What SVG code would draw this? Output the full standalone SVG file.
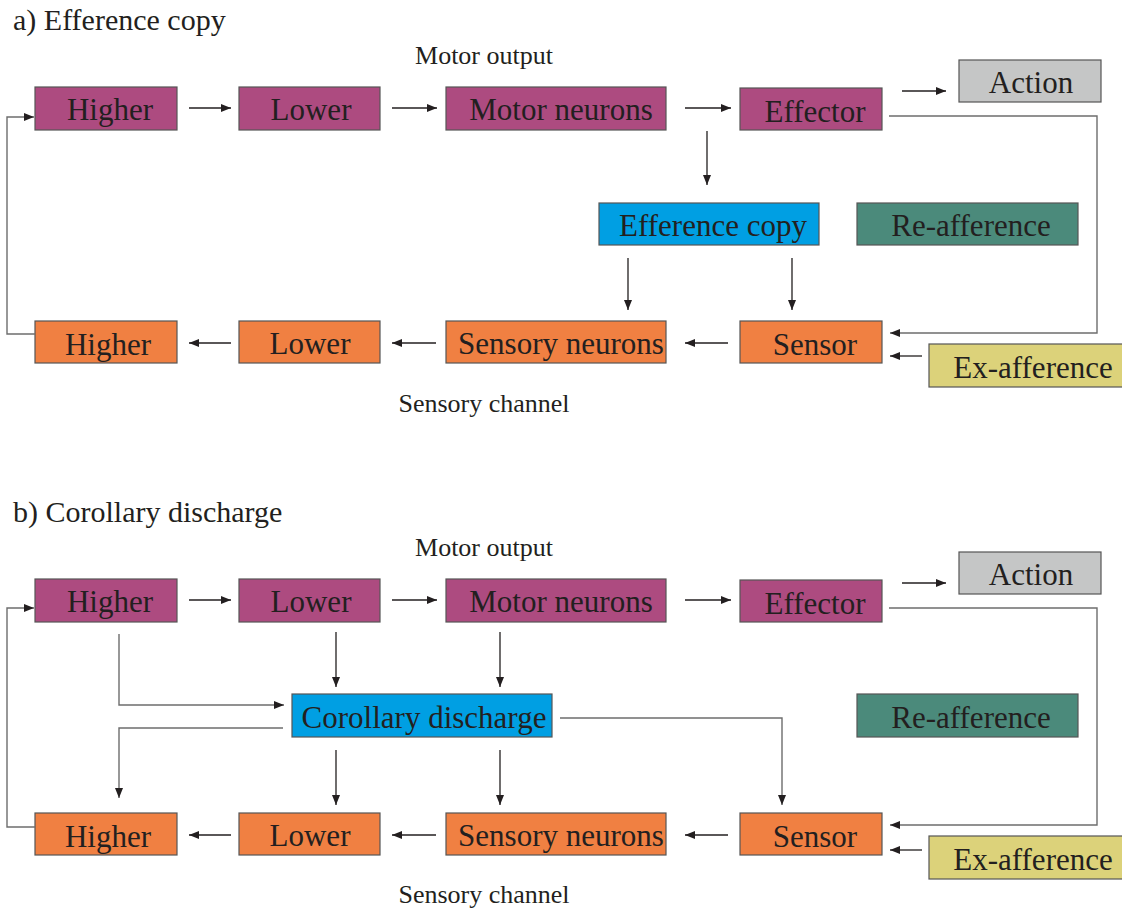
<svg xmlns="http://www.w3.org/2000/svg" width="1122" height="908" viewBox="0 0 1122 908">
<defs>
<marker id="ah" viewBox="0 0 10 8" refX="10" refY="4" markerWidth="10" markerHeight="8" markerUnits="userSpaceOnUse" orient="auto"><path d="M0,0 L10,4 L0,8 z" fill="#231F20"/></marker>
</defs>
<style>
.box{stroke:#555;stroke-width:1.2}
.m{fill:#AD4B80}.s{fill:#F08042}.c{fill:#009FE3}.r{fill:#4B8A7B}.a{fill:#C5C6C6}.x{fill:#DCD27A}
.t{font-family:"Liberation Serif",serif;font-size:31px;fill:#231F20;text-anchor:middle}
.h{font-family:"Liberation Serif",serif;font-size:30px;fill:#231F20}
.l{font-family:"Liberation Serif",serif;font-size:26px;fill:#231F20;text-anchor:middle}
.k{fill:none;stroke:#231F20;stroke-width:1.3}
.g{fill:none;stroke:#6d6d6d;stroke-width:1.4}
</style>
<rect width="1122" height="908" fill="#fff"/>
<text class="h" x="13" y="30">a) Efference copy</text>
<text class="l" x="484" y="64">Motor output</text>
<text class="l" x="484" y="412">Sensory channel</text>
<g id="a-higher-m"><rect class="box m" x="35" y="87" width="142" height="43"/><text class="t" x="110" y="120">Higher</text></g>
<g id="a-lower-m"><rect class="box m" x="239" y="87" width="141" height="43"/><text class="t" x="311" y="120">Lower</text></g>
<g id="a-motor"><rect class="box m" x="446" y="87" width="220" height="43"/><text class="t" x="561" y="120">Motor neurons</text></g>
<g id="a-effector"><rect class="box m" x="740" y="88" width="142" height="42"/><text class="t" x="815" y="122">Effector</text></g>
<g id="a-action"><rect class="box a" x="959" y="60" width="142" height="42"/><text class="t" x="1031" y="93">Action</text></g>
<g id="a-efference"><rect class="box c" x="599" y="203" width="220" height="42"/><text class="t" x="713" y="236">Efference copy</text></g>
<g id="a-reaff"><rect class="box r" x="857" y="203" width="221" height="42"/><text class="t" x="971" y="236">Re-afference</text></g>
<g id="a-higher-s"><rect class="box s" x="35" y="321" width="142" height="42"/><text class="t" x="108" y="355">Higher</text></g>
<g id="a-lower-s"><rect class="box s" x="239" y="321" width="141" height="42"/><text class="t" x="310" y="354">Lower</text></g>
<g id="a-sensory"><rect class="box s" x="446" y="321" width="220" height="42"/><text class="t" x="561" y="354">Sensory neurons</text></g>
<g id="a-sensor"><rect class="box s" x="740" y="321" width="142" height="42"/><text class="t" x="815" y="355">Sensor</text></g>
<g id="a-exaff"><rect class="box x" x="929" y="344" width="194" height="43"/><text class="t" x="1033" y="378">Ex-afference</text></g>

<text class="h" x="13" y="522">b) Corollary discharge</text>
<text class="l" x="484" y="556">Motor output</text>
<text class="l" x="484" y="903">Sensory channel</text>
<g id="b-higher-m"><rect class="box m" x="35" y="579" width="142" height="43"/><text class="t" x="110" y="612">Higher</text></g>
<g id="b-lower-m"><rect class="box m" x="239" y="579" width="141" height="43"/><text class="t" x="311" y="612">Lower</text></g>
<g id="b-motor"><rect class="box m" x="446" y="579" width="220" height="43"/><text class="t" x="561" y="612">Motor neurons</text></g>
<g id="b-effector"><rect class="box m" x="740" y="580" width="142" height="42"/><text class="t" x="815" y="614">Effector</text></g>
<g id="b-action"><rect class="box a" x="959" y="552" width="142" height="42"/><text class="t" x="1031" y="585">Action</text></g>
<g id="b-corollary"><rect class="box c" x="292" y="694" width="260" height="43"/><text class="t" x="424" y="728">Corollary discharge</text></g>
<g id="b-reaff"><rect class="box r" x="857" y="694" width="221" height="43"/><text class="t" x="971" y="728">Re-afference</text></g>
<g id="b-higher-s"><rect class="box s" x="35" y="813" width="142" height="42"/><text class="t" x="108" y="847">Higher</text></g>
<g id="b-lower-s"><rect class="box s" x="239" y="813" width="141" height="42"/><text class="t" x="310" y="846">Lower</text></g>
<g id="b-sensory"><rect class="box s" x="446" y="813" width="220" height="42"/><text class="t" x="561" y="846">Sensory neurons</text></g>
<g id="b-sensor"><rect class="box s" x="740" y="813" width="142" height="42"/><text class="t" x="815" y="847">Sensor</text></g>
<g id="b-exaff"><rect class="box x" x="929" y="836" width="194" height="43"/><text class="t" x="1033" y="870">Ex-afference</text></g>

<g id="connectors">
<path class="k" marker-end="url(#ah)" d="M189,108 H231"/>
<path class="k" marker-end="url(#ah)" d="M392,108 H437"/>
<path class="k" marker-end="url(#ah)" d="M685,108 H731"/>
<path class="k" marker-end="url(#ah)" d="M902,91 H946"/>
<path class="g" marker-end="url(#ah)" d="M889,116 H1097 V333 H890"/>
<path class="k" marker-end="url(#ah)" d="M922,356 H890"/>
<path class="k" marker-end="url(#ah)" d="M707,131 V185"/>
<path class="k" marker-end="url(#ah)" d="M628,258 V310"/>
<path class="k" marker-end="url(#ah)" d="M792,258 V310"/>
<path class="k" marker-end="url(#ah)" d="M728,343 H685"/>
<path class="k" marker-end="url(#ah)" d="M436,343 H392"/>
<path class="k" marker-end="url(#ah)" d="M231,343 H189"/>
<path class="g" marker-end="url(#ah)" d="M35,334 H7 V117 H34"/>

<path class="k" marker-end="url(#ah)" d="M189,600 H231"/>
<path class="k" marker-end="url(#ah)" d="M392,600 H437"/>
<path class="k" marker-end="url(#ah)" d="M685,600 H731"/>
<path class="k" marker-end="url(#ah)" d="M902,583 H946"/>
<path class="g" marker-end="url(#ah)" d="M889,608 H1097 V825 H890"/>
<path class="k" marker-end="url(#ah)" d="M922,850 H890"/>
<path class="g" marker-end="url(#ah)" d="M35,827 H7 V608 H34"/>
<path class="g" marker-end="url(#ah)" d="M119,634 V705 H284"/>
<path class="k" marker-end="url(#ah)" d="M336,632 V687"/>
<path class="k" marker-end="url(#ah)" d="M500,632 V687"/>
<path class="g" marker-end="url(#ah)" d="M283,728 H119 V798"/>
<path class="k" marker-end="url(#ah)" d="M336,750 V805"/>
<path class="k" marker-end="url(#ah)" d="M500,750 V805"/>
<path class="g" marker-end="url(#ah)" d="M560,718 H782 V805"/>
<path class="k" marker-end="url(#ah)" d="M728,835 H685"/>
<path class="k" marker-end="url(#ah)" d="M436,835 H392"/>
<path class="k" marker-end="url(#ah)" d="M231,835 H189"/>
</g>
</svg>
